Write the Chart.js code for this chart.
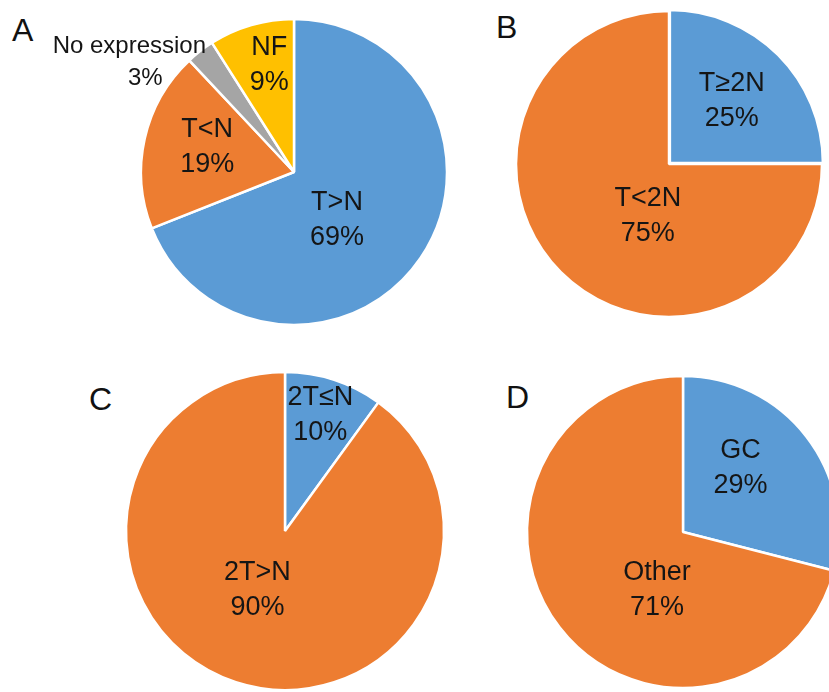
<!DOCTYPE html>
<html>
<head>
<meta charset="utf-8">
<script src="https://cdn.jsdelivr.net/npm/chart.js@4"></script>
<style>
  html, body { margin: 0; padding: 0; background: #fff; overflow: hidden; }
  body { width: 829px; height: 692px; position: relative; }
  canvas { position: absolute; }
  .tag { position: absolute; font-family: 'Liberation Sans', Arial, sans-serif; font-size: 32px; color: #111; line-height: 1; }
</style>
</head>
<body>
<div class="tag" style="left:12px;top:14px">A</div>
<div class="tag" style="left:496px;top:11px">B</div>
<div class="tag" style="left:89px;top:383px">C</div>
<div class="tag" style="left:506px;top:381px">D</div>
<canvas id="pieA" width="600" height="600"></canvas>
<canvas id="pieB" width="600" height="600"></canvas>
<canvas id="pieC" width="600" height="600"></canvas>
<canvas id="pieD" width="600" height="600"></canvas>
<script>
// data
var labelsA = ['T>N', 'T<N', 'No expression', 'NF'];
var valuesA = [69, 19, 3, 9];
var labelsB = ['T≥2N', 'T<2N'];
var valuesB = [25, 75];
var labelsC = ['2T≤N', '2T>N'];
var valuesC = [10, 90];
var labelsD = ['GC', 'Other'];
var valuesD = [29, 71];

var blue = '#5b9bd5', orange = '#ed7d31', grey = '#a5a5a5', yellow = '#ffc000';

// label placement: [degrees clockwise from top, fraction of radius, font px, line shift px]
var placeA = [[138, 0.42, 27, 0], [286, 0.59, 27, 0], [305, 1.25, 24, 8], [347, 0.72, 27, 0]];
var placeB = [[45, 0.58, 27, 0], [202, 0.37, 27, 0]];
var placeC = [[17, 0.76, 27, 0], [205, 0.41, 27, 0]];
var placeD = [[42, 0.55, 27, 0], [204, 0.41, 27, 0]];

var sliceLabels = {
  id: 'sliceLabels',
  afterDatasetsDraw: function(chart, args, opts) {
    var c = chart.ctx;
    var meta = chart.getDatasetMeta(0);
    var ds = chart.data.datasets[0];
    c.save();
    c.fillStyle = '#151515';
    c.textAlign = 'center';
    c.textBaseline = 'middle';
    meta.data.forEach(function(arc, i) {
      var p = opts.place[i];
      var a = (p[0] - 90) * Math.PI / 180;
      var x = arc.x + Math.cos(a) * p[1] * arc.outerRadius;
      var y = arc.y + Math.sin(a) * p[1] * arc.outerRadius;
      var gap = p[2] * 0.65;
      c.font = p[2] + 'px "Liberation Sans", Arial, sans-serif';
      c.fillText(chart.data.labels[i], x - p[3], y - gap);
      c.fillText(ds.data[i] + '%', x + p[3], y + gap);
    });
    c.restore();
  }
};

function makePie(id, cx, cy, r, labels, values, colors, offsets, place) {
  var el = document.getElementById(id);
  el.style.left = (cx - 300) + 'px';
  el.style.top = (cy - 300) + 'px';
  return new Chart(el, {
    type: 'pie',
    data: {
      labels: labels,
      datasets: [{
        data: values,
        backgroundColor: colors,
        borderColor: '#ffffff',
        borderWidth: 2.5,
        offset: offsets,
        radius: r
      }]
    },
    options: {
      responsive: false,
      animation: false,
      layout: { padding: 0 },
      plugins: {
        legend: { display: false },
        tooltip: { enabled: false },
        sliceLabels: { place: place }
      }
    },
    plugins: [sliceLabels]
  });
}

makePie('pieA', 294, 172, 153, labelsA, valuesA, [blue, orange, grey, yellow], 0, placeA);
makePie('pieB', 669, 164, 153, labelsB, valuesB, [blue, orange], [5, 0], placeB);
makePie('pieC', 285, 531, 159, labelsC, valuesC, [blue, orange], 0, placeC);
makePie('pieD', 683, 532, 156, labelsD, valuesD, [blue, orange], 0, placeD);
</script>
</body>
</html>
